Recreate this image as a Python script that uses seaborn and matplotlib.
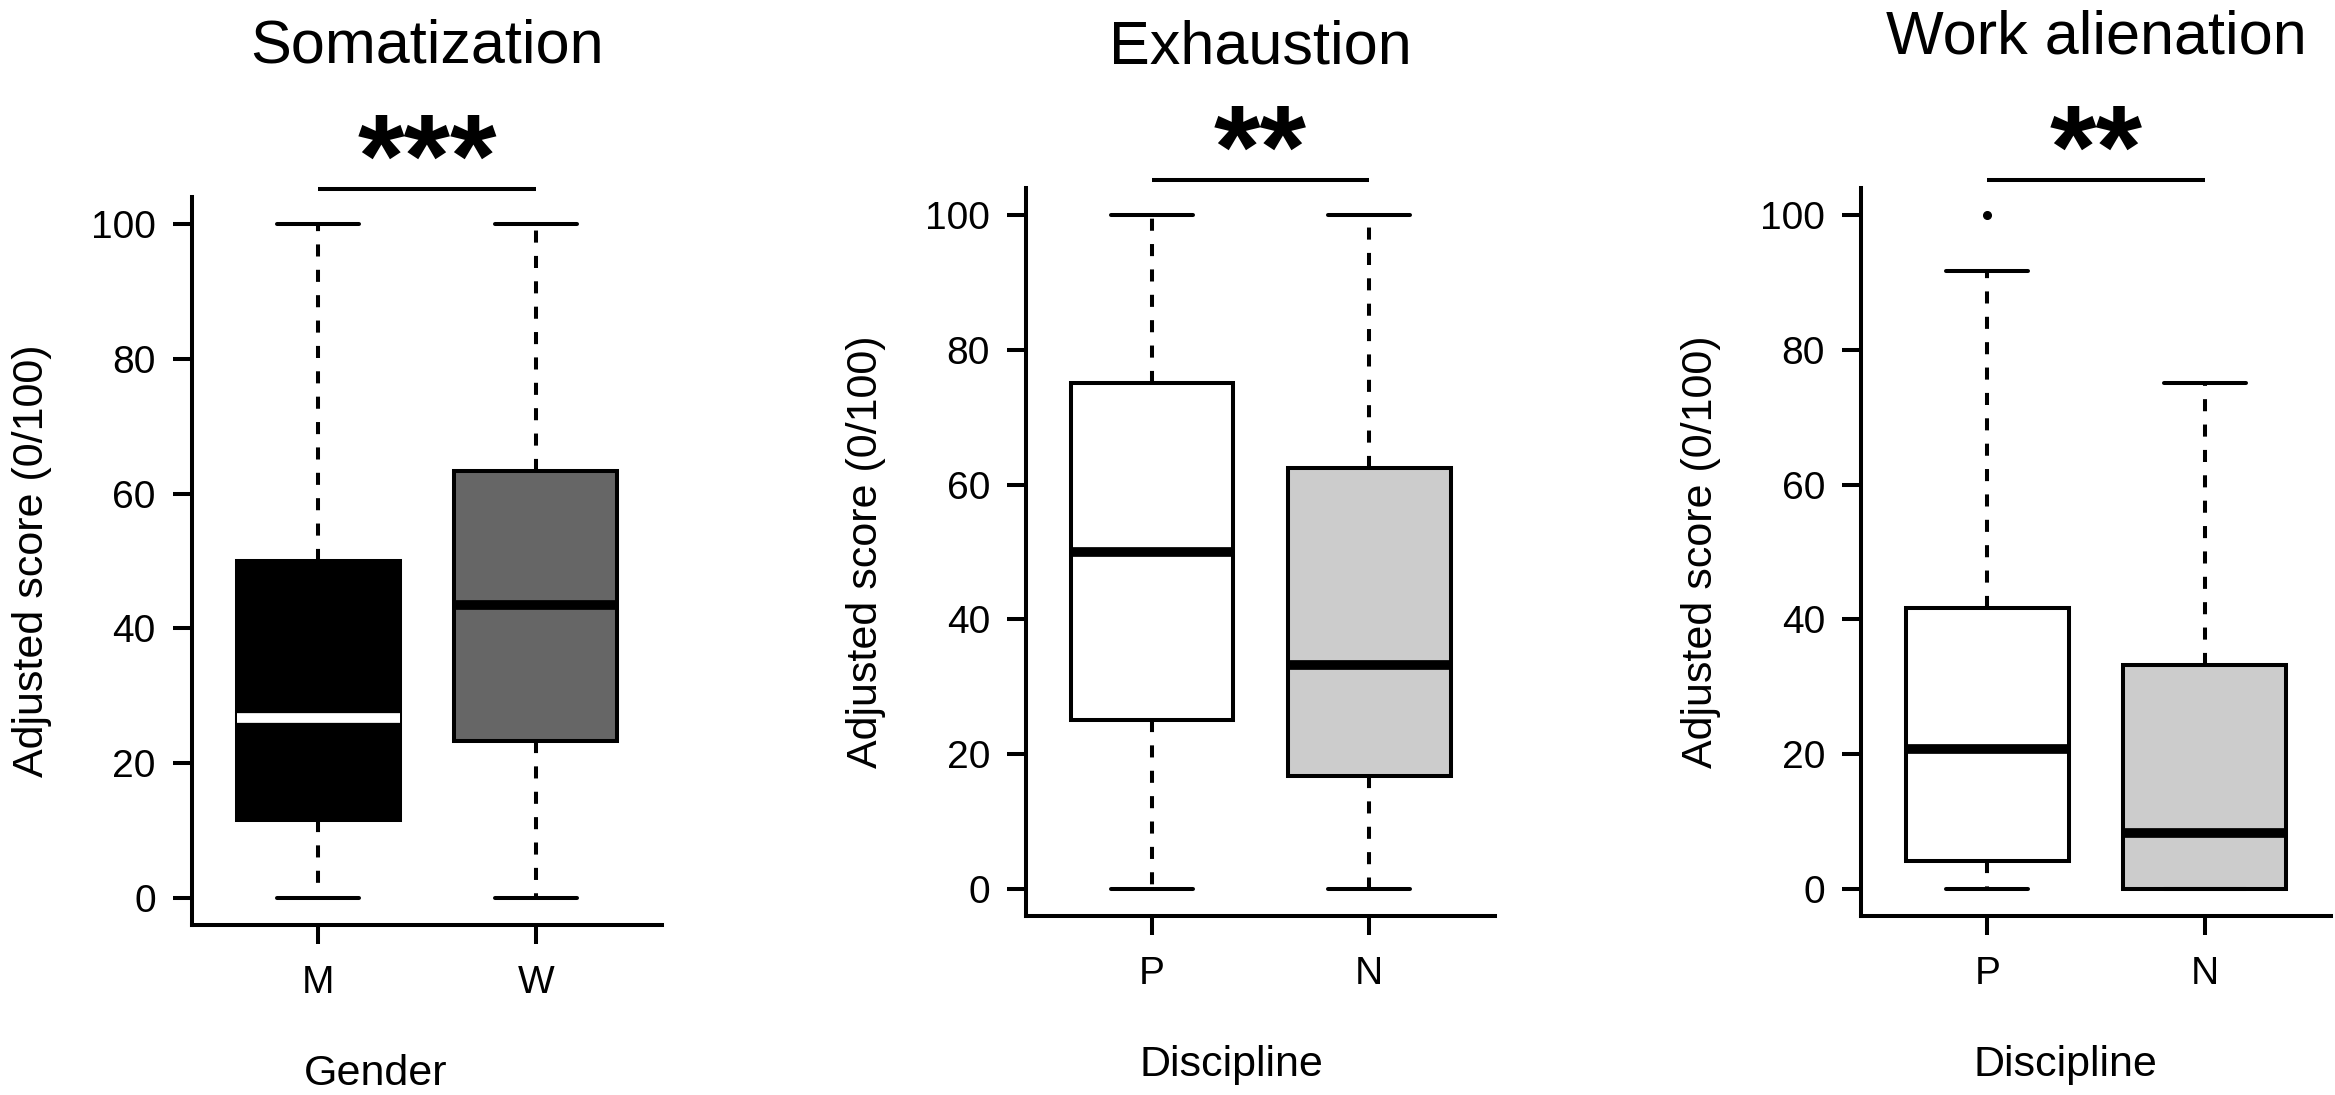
import pandas as pd
import seaborn as sns
import matplotlib.pyplot as plt

# five-number summaries (low whisker, Q1, median, Q3, high whisker)
soma_groups = ["M", "W"]
soma_low = [0, 0]
soma_q1 = [11.5, 23.3]
soma_med = [26.7, 43.5]
soma_q3 = [50.0, 63.3]
soma_high = [100, 100]
soma_out = [[], []]

exh_groups = ["P", "N"]
exh_low = [0, 0]
exh_q1 = [25.0, 16.7]
exh_med = [50.0, 33.3]
exh_q3 = [75.0, 62.5]
exh_high = [100, 100]
exh_out = [[], []]

work_groups = ["P", "N"]
work_low = [0, 0]
work_q1 = [4.2, 0.0]
work_med = [20.8, 8.3]
work_q3 = [41.7, 33.3]
work_high = [91.7, 75.0]
work_out = [[100], []]

titles = ["Somatization", "Exhaustion", "Work alienation"]
xlabels = ["Gender", "Discipline", "Discipline"]
stars = ["***", "**", "**"]


def make_frame(groups, low, q1, med, q3, high, out):
    # sample whose quartiles / whiskers reproduce the summary exactly
    rows = []
    for i, g in enumerate(groups):
        vals = [low[i], q1[i], q1[i], med[i], med[i], q3[i], q3[i], high[i]] + out[i]
        rows += [(g, v) for v in vals]
    return pd.DataFrame(rows, columns=["group", "score"])


panels = [
    (make_frame(soma_groups, soma_low, soma_q1, soma_med, soma_q3, soma_high, soma_out),
     {"M": "black", "W": "#666666"}, {"M": "white", "W": "black"}),
    (make_frame(exh_groups, exh_low, exh_q1, exh_med, exh_q3, exh_high, exh_out),
     {"P": "white", "N": "#cccccc"}, {"P": "black", "N": "black"}),
    (make_frame(work_groups, work_low, work_q1, work_med, work_q3, work_high, work_out),
     {"P": "white", "N": "#cccccc"}, {"P": "black", "N": "black"}),
]

sns.set_style("ticks")
plt.rcParams['font.family'] = ['Liberation Sans', 'DejaVu Sans']
plt.rcParams.update({"text.color": "black", "axes.labelcolor": "black",
                     "xtick.color": "black", "ytick.color": "black",
                     "axes.edgecolor": "black"})

fig = plt.figure(figsize=(23.35, 10.95), dpi=100)
rects = [
    [0.0822, 0.1553, 0.2013, 0.6647],
    [0.4394, 0.1635, 0.2009, 0.6648],
    [0.7970, 0.1635, 0.2013, 0.6648],
]
title_pads = [97, 90, 97]
xlabel_x = [0.39, 0.437, 0.436]
lw = 2.9

for k, (df, fills, medcols) in enumerate(panels):
    ax = fig.add_axes(rects[k])
    sns.boxplot(data=df, x="group", y="score", hue="group", palette=fills,
                legend=False, width=0.75, linewidth=lw, linecolor="black",
                fliersize=5.5, ax=ax,
                medianprops={"linewidth": 7},
                whiskerprops={"linestyle": (0, (3, 3.3))},
                flierprops={"marker": "o", "markerfacecolor": "black",
                            "markeredgecolor": "black"})
    order = list(fills.keys())
    for g, cont in zip(order, ax.containers):
        for m in cont.medians:
            m.set_color(medcols[g])

    ax.set_xlim(-0.58, 1.58)
    ax.set_ylim(-4, 104)
    ax.set_yticks([0, 20, 40, 60, 80, 100])
    sns.despine(ax=ax)
    for s in ["left", "bottom"]:
        ax.spines[s].set_linewidth(lw)
    ax.tick_params(axis="both", length=14, width=lw, labelsize=28)
    ax.tick_params(axis="y", pad=12)
    ax.tick_params(axis="x", pad=15)
    ax.set_xlabel(xlabels[k], fontsize=31, labelpad=38, x=xlabel_x[k])
    ax.set_ylabel("Adjusted score (0/100)", fontsize=31, labelpad=28)
    ax.set_title(titles[k], fontsize=44, pad=title_pads[k])

    # significance bracket between the two groups
    ax.plot([0, 1], [105.2, 105.2], color="black", lw=lw, clip_on=False,
            solid_capstyle="butt")
    ax.text(0.5, 104.0, stars[k], ha="center", va="baseline", fontsize=86,
            fontweight="bold", clip_on=False)

fig.savefig("out.png", dpi=100)
